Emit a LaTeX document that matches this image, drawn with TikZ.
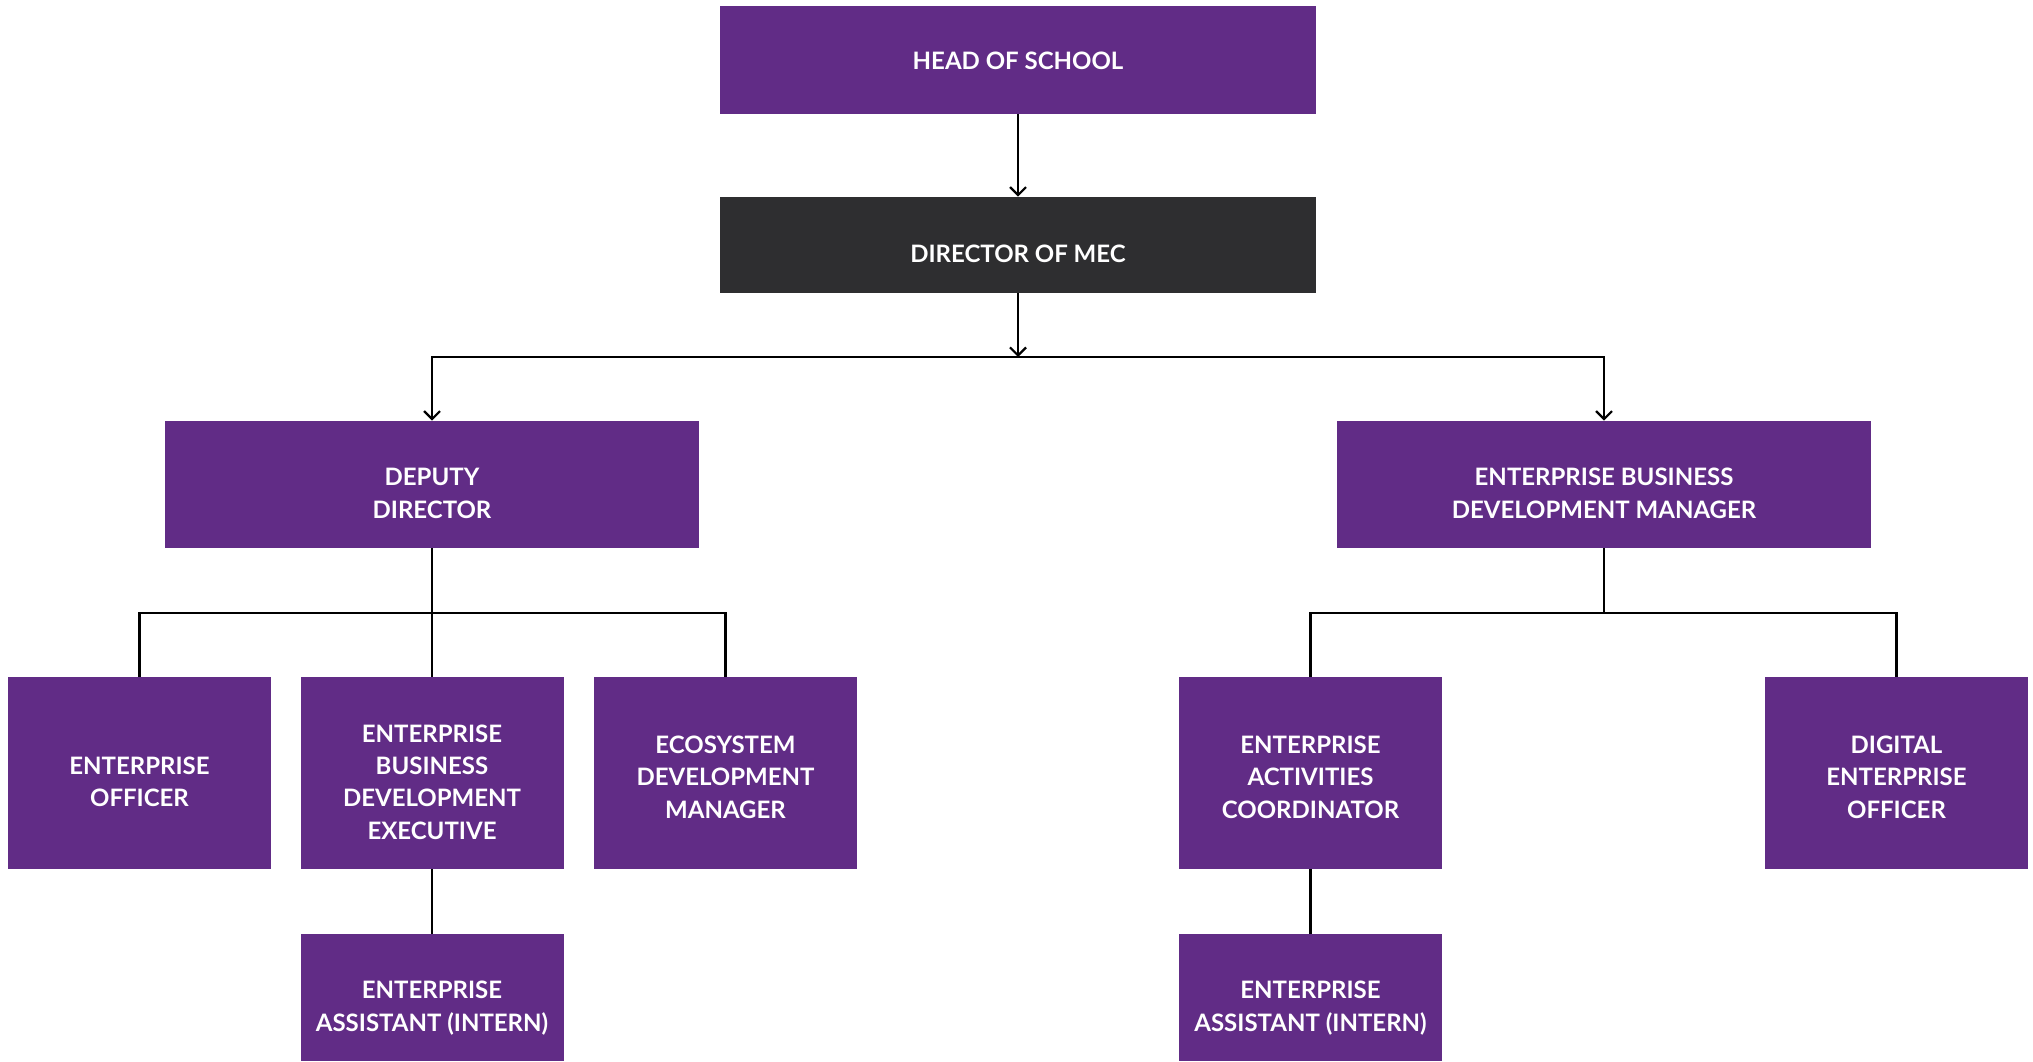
\documentclass[tikz,border=0pt]{standalone}
\usepackage{fontspec}
\setmainfont{Lato}
\usetikzlibrary{arrows.meta}

\definecolor{mecpurple}{RGB}{97,44,134}
\definecolor{mecdark}{RGB}{46,46,48}

\tikzset{
  role/.style={fill=mecpurple, text=white, align=center, inner sep=0pt,
    font=\bfseries\fontsize{12}{16.2}\selectfont, text height=33.8pt, text depth=0pt},
  wide/.style={role, minimum width=267pt, minimum height=63.5pt},
  small/.style={role, minimum width=131.5pt, minimum height=96pt},
  intern/.style={role, minimum width=131.5pt, minimum height=63.5pt},
  link/.style={line width=1.1pt},
  arrow/.style={link, -{Straight Barb[length=4pt, width=8pt]}}
}

\begin{document}
\begin{tikzpicture}[x=0.5pt, y=-0.5pt]
    \useasboundingbox (0,0) rectangle (2033,1061);

    % top of the chart
    \node[role, text height=9.8pt, minimum width=298pt, minimum height=54pt] (head) at (1018,60) {HEAD OF SCHOOL};
    \node[role, text height=17.6pt, fill=mecdark, minimum width=298pt, minimum height=48pt] (dir) at (1018,245) {DIRECTOR OF MEC};

    % second level
    \node[wide] (dep) at (432,484.5) {DEPUTY\\DIRECTOR};
    \node[wide] (ebdm) at (1604,484.5) {ENTERPRISE BUSINESS\\DEVELOPMENT MANAGER};

    % third level
    \node[small] (eo) at (139.5,773) {ENTERPRISE\\OFFICER};
    \node[small, text height=66.2pt] (ebde) at (432,773) {ENTERPRISE\\BUSINESS\\DEVELOPMENT\\EXECUTIVE};
    \node[small, text height=45pt] (eco) at (725.5,773) {ECOSYSTEM\\DEVELOPMENT\\MANAGER};
    \node[small, text height=45pt] (eac) at (1310.5,773) {ENTERPRISE\\ACTIVITIES\\COORDINATOR};
    \node[small, text height=45pt] (deo) at (1896.5,773) {DIGITAL\\ENTERPRISE\\OFFICER};

    % interns
    \node[intern] (eai1) at (432,997.5) {ENTERPRISE\\ASSISTANT (INTERN)};
    \node[intern] (eai2) at (1310.5,997.5) {ENTERPRISE\\ASSISTANT (INTERN)};

    %split points
    \coordinate (split) at (1018,357);
    \coordinate (splitL) at (432,613);
    \coordinate (splitR) at (1604,613);

    % connectors
    \draw[arrow] (head) -- (dir);
    \draw[arrow] (dir) -- (split);
    \draw[arrow] (split) -| (dep.north);
    \draw[arrow] (split) -| (ebdm.north);

    \draw[link] (dep) -- (ebde);
    \draw[link] (splitL) -| (eo.north);
    \draw[link] (splitL) -| (eco.north);
    \draw[link] (ebdm) -- (splitR);
    \draw[link] (splitR) -| (eac.north);
    \draw[link] (splitR) -| (deo.north);

    \draw[link] (ebde) -- (eai1);
    \draw[link] (eac) -- (eai2);
\end{tikzpicture}
\end{document}
